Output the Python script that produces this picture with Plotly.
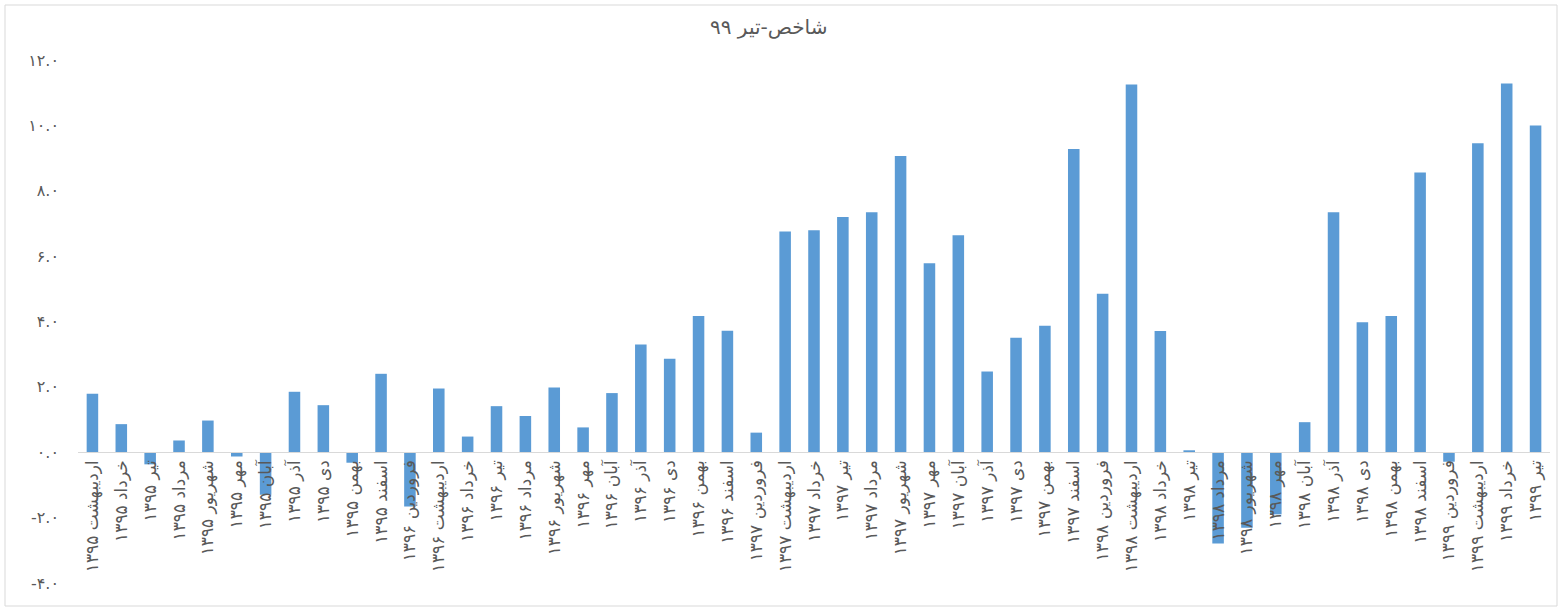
import plotly.graph_objects as go

categories = [
    "اردیبهشت ۱۳۹۵", "خرداد ۱۳۹۵", "تیر ۱۳۹۵", "مرداد ۱۳۹۵", "شهریور ۱۳۹۵", "مهر ۱۳۹۵", "آبان ۱۳۹۵", "آذر ۱۳۹۵", "دی ۱۳۹۵", "بهمن ۱۳۹۵", "اسفند ۱۳۹۵",
    "فروردین ۱۳۹۶", "اردیبهشت ۱۳۹۶", "خرداد ۱۳۹۶", "تیر ۱۳۹۶", "مرداد ۱۳۹۶", "شهریور ۱۳۹۶", "مهر ۱۳۹۶", "آبان ۱۳۹۶", "آذر ۱۳۹۶", "دی ۱۳۹۶", "بهمن ۱۳۹۶", "اسفند ۱۳۹۶",
    "فروردین ۱۳۹۷", "اردیبهشت ۱۳۹۷", "خرداد ۱۳۹۷", "تیر ۱۳۹۷", "مرداد ۱۳۹۷", "شهریور ۱۳۹۷", "مهر ۱۳۹۷", "آبان ۱۳۹۷", "آذر ۱۳۹۷", "دی ۱۳۹۷", "بهمن ۱۳۹۷", "اسفند ۱۳۹۷",
    "فروردین ۱۳۹۸", "اردیبهشت ۱۳۹۸", "خرداد ۱۳۹۸", "تیر ۱۳۹۸", "مرداد ۱۳۹۸", "شهریور ۱۳۹۸", "مهر ۱۳۹۸", "آبان ۱۳۹۸", "آذر ۱۳۹۸", "دی ۱۳۹۸", "بهمن ۱۳۹۸", "اسفند ۱۳۹۸",
    "فروردین ۱۳۹۹", "اردیبهشت ۱۳۹۹", "خرداد ۱۳۹۹", "تیر ۱۳۹۹",
]

values = [
    1.79, 0.86, -0.37, 0.36, 0.97, -0.13, -1.30, 1.85, 1.44, -0.32, 2.40,
    -1.66, 1.95, 0.48, 1.41, 1.11, 1.98, 0.76, 1.81, 3.30, 2.86, 4.17, 3.72,
    0.60, 6.75, 6.79, 7.20, 7.34, 9.06, 5.78, 6.64, 2.47, 3.50, 3.87, 9.28,
    4.85, 11.25, 3.71, 0.06, -2.79, -2.31, -1.90, 0.92, 7.34, 3.98, 4.17, 8.56,
    -0.29, 9.45, 11.28, 10.00,
]

y_tickvals = [-4, -2, 0, 2, 4, 6, 8, 10, 12]
y_ticktext = ["-۴.۰", "-۲.۰", "۰.۰", "۲.۰", "۴.۰", "۶.۰", "۸.۰", "۱۰.۰", "۱۲.۰"]

title_text = "شاخص-تیر ۹۹"

W, H = 1562, 611
L, R, T, B = 78, 12, 60, 28
pw = W - L - R
ph = H - T - B

fig = go.Figure()
fig.add_trace(go.Bar(
    x=categories, y=values,
    marker=dict(color="#5B9BD5", line=dict(width=0)),
    hoverinfo="x+y",
))

ymin, ymax = -4, 12
zero_pos = (0 - ymin) / (ymax - ymin)

fig.update_layout(
    width=W, height=H,
    margin=dict(l=L, r=R, t=T, b=B, autoexpand=False),
    paper_bgcolor="white", plot_bgcolor="white",
    bargap=0.6,
    showlegend=False,
    font=dict(family="DejaVu Sans", color="#595959"),
    xaxis=dict(
        type="category",
        tickangle=-90,
        anchor="free", position=zero_pos,
        showline=True, linecolor="#d9d9d9", linewidth=1.3,
        ticks="", showgrid=False, zeroline=False,
        automargin=False,
        tickfont=dict(size=17, family="DejaVu Sans", color="#595959"),
    ),
    yaxis=dict(
        range=[ymin, ymax],
        tickvals=y_tickvals, ticktext=y_ticktext,
        showgrid=False, zeroline=False, showline=False,
        ticks="", ticklabelstandoff=18,
        automargin=False,
        tickfont=dict(size=16, family="DejaVu Sans", color="#595959"),
    ),
    annotations=[dict(
        text=title_text, xref="paper", yref="paper",
        x=(768 - L) / pw, y=(H - B - 27) / ph,
        xanchor="center", yanchor="middle", showarrow=False,
        font=dict(size=20, family="DejaVu Sans", color="#595959"),
    )],
    shapes=[dict(
        type="rect", xref="paper", yref="paper",
        x0=(5 - L) / pw, x1=(1557 - L) / pw,
        y0=(H - B - 606) / ph, y1=(H - B - 5) / ph,
        line=dict(color="#d9d9d9", width=1), fillcolor="rgba(0,0,0,0)",
        layer="below",
    )],
)

fig.write_html(
    "out.html",
    config={"displayModeBar": False},
    post_script="document.body.style.margin='0px';document.body.style.overflow='hidden';",
)
